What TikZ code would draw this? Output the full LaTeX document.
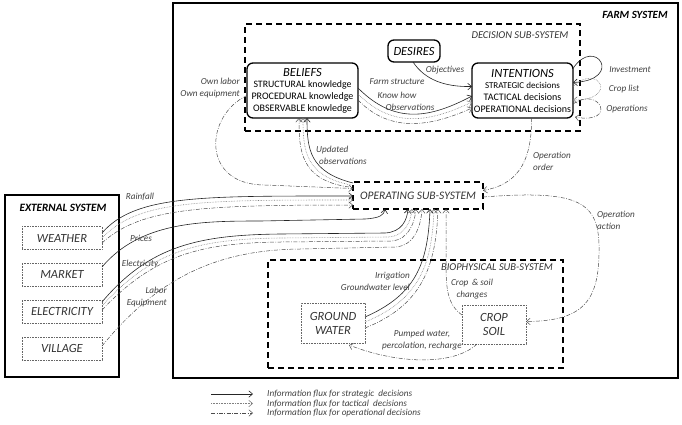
\documentclass[tikz,border=0pt]{standalone}
\usepackage{fontspec}
\setmainfont{Carlito}
\usetikzlibrary{arrows.meta,calc}
\begin{document}
\begin{tikzpicture}[x=1pt,y=-1pt,
  tip/.style={-{Straight Barb[length=3.8pt,width=6.5pt]}},
  sysbox/.style={draw, line width=1.6pt, outer sep=0pt},
  subbox/.style={draw, line width=1.4pt, dash pattern=on 6pt off 4pt, outer sep=0pt},
  agent/.style={draw, line width=1.3pt, rounded corners=6pt, outer sep=0pt, align=center, inner sep=1pt},
  compbox/.style={draw=gray!80!black, densely dotted, line width=0.6pt, outer sep=0pt, align=center,
     font=\itshape\fontsize{12.5}{14}\selectfont, text=black!80},
  lbl/.style={font=\itshape\fontsize{9.2}{11.5}\selectfont, text=black!75, inner sep=0pt},
  title/.style={font=\itshape\fontsize{10.5}{12}\selectfont, text=black!80, inner sep=0pt},
  strat/.style={black!85, line width=0.6pt, tip},
  tact/.style={gray, densely dotted, line width=0.6pt, tip},
  oper/.style={black!70, line width=0.5pt, dash pattern=on 4pt off 1.5pt on 0.8pt off 1.5pt, tip},
]
\useasboundingbox (0,0) rectangle (682,424);

% ---------- systems ----------
\node[sysbox, minimum width=505pt, minimum height=375pt] (farm) at (425.5,190.5) {};
\node[sysbox, minimum width=114pt, minimum height=182pt] (external) at (62,286) {};
\node[subbox, minimum width=335pt, minimum height=107pt] (decision) at (412.5,77.5) {};
\node[subbox, minimum width=130pt, minimum height=27pt, font=\itshape\fontsize{11.5}{12}\selectfont, text=black!80] (operating) at (418,195.5) {OPERATING SUB-SYSTEM};
\node[subbox, minimum width=295pt, minimum height=108pt] (bio) at (415.5,314) {};

\node[font=\bfseries\itshape\fontsize{11}{12}\selectfont, inner sep=0pt] (farmlbl) at (635,15) {FARM SYSTEM};
\node[font=\bfseries\itshape\fontsize{11.2}{12}\selectfont, inner sep=0pt] (extlbl) at (63,208) {EXTERNAL SYSTEM};
\node[title] (declbl) at (520,35) {DECISION SUB-SYSTEM};
\node[title] (biolbl) at (497,267) {BIOPHYSICAL SUB-SYSTEM};

% ---------- decision agents ----------
\node[agent, minimum width=52pt, minimum height=22pt, font=\itshape\fontsize{12.5}{14}\selectfont] (desires) at (414,51) {DESIRES};
\node[agent, minimum width=111pt, minimum height=55pt] (beliefs) at (302.5,90.5)
  {{\itshape\fontsize{12.5}{13}\selectfont BELIEFS}\\[-1pt]
   \fontsize{9.8}{12}\selectfont STRUCTURAL knowledge\\ PROCEDURAL knowledge\\ OBSERVABLE knowledge};
\node[agent, minimum width=101pt, minimum height=55pt] (intentions) at (522.5,90.5)
  {{\itshape\fontsize{12.5}{13}\selectfont INTENTIONS}\\[-1pt]
   \fontsize{9}{12}\selectfont STRATEGIC\ decisions\\ TACTICAL\ decisions\\ OPERATIONAL\ decisions};

% ---------- external components ----------
\node[compbox, minimum width=80pt, minimum height=23pt] (weather) at (62,238) {WEATHER};
\node[compbox, minimum width=80pt, minimum height=23pt] (market) at (62,274.5) {MARKET};
\node[compbox, minimum width=80pt, minimum height=23pt] (electricity) at (62,311.5) {ELECTRICITY};
\node[compbox, minimum width=80pt, minimum height=23pt] (village) at (62,348.5) {VILLAGE};

% ---------- biophysical components ----------
\node[compbox, minimum width=64pt, minimum height=40pt, font=\itshape\fontsize{12.5}{14}\selectfont] (ground) at (333,323) {GROUND\\WATER};
\node[compbox, minimum width=64pt, minimum height=39pt, font=\itshape\fontsize{12.5}{14}\selectfont] (crop) at (494,324.5) {CROP\\SOIL};

% ---------- beliefs -> intentions ----------
\draw[strat] ($(beliefs.east)+(0,-2.5)$) .. controls (395,125) and (430,118) .. ($(intentions.west)+(0,5.5)$);
\draw[tact]  ($(beliefs.east)+(0,3.5)$) .. controls (393,129) and (430,122) .. ($(intentions.west)+(0,11.5)$);
\draw[oper]  ($(beliefs.east)+(0,9.5)$) .. controls (390,133) and (430,127) .. ($(intentions.west)+(0,17.5)$);
\node[lbl] (l-fs) at (397,82) {Farm structure};
\node[lbl] (l-kh) at (397,95) {Know how};
\node[lbl] (l-ob) at (410,107) {Observations};

% desires -> intentions
\draw[strat] ($(desires.south)+(-1,0)$) .. controls (425,80) and (445,87) .. ($(intentions.west)+(0,-4)$);
\node[lbl] (l-objective) at (445,70) {Objectives};

% self loops
\draw[strat] ($(intentions.east)+(0,-22)$) .. controls (595,35) and (625,80) .. ($(intentions.east)+(0,-8)$);
\draw[tact]  ($(intentions.east)+(0,-4)$) .. controls (598,62) and (620,100) .. ($(intentions.east)+(0,9.5)$);
\draw[oper]  ($(intentions.east)+(0,13.5)$) .. controls (600,85) and (618,125) .. ($(intentions.south east)+(2,-1)$);
\node[lbl] (l-inv) at (630,70) {Investment};
\node[lbl] (l-cl) at (624,89) {Crop list};
\node[lbl] (l-op) at (627,109) {Operations};

% intentions -> operating (operation order)
\draw[oper] ($(intentions.south)+(9,0)$) .. controls (532,165) and (515,185) .. ($(operating.east)+(0,-5)$);
\node[lbl, anchor=north west, align=left] (l-oo) at (533,152) {Operation\\order};

% operating -> crop (operation action)
\draw[oper] ($(operating.east)+(0,1.5)$) .. controls (575,190) and (598,200) .. (599,245)
   .. controls (600,300) and (585,321) .. ($(crop.east)+(0,-3)$);
\node[lbl, anchor=north west, align=left] (l-oa) at (597,211) {Operation\\action};

% operating -> beliefs (updated observations)
\draw[strat] ($(operating.north west)+(0,1)$) .. controls (310,172) and (307,150) .. ($(beliefs.south)+(4.5,0)$);
\draw[tact]  ($(operating.north west)+(-2,3)$) .. controls (305,176) and (303,150) .. ($(beliefs.south)+(0.5,0)$);
\draw[oper]  ($(operating.north west)+(-4,5)$) .. controls (300,180) and (299,150) .. ($(beliefs.south)+(-3.5,0)$);
\node[lbl, anchor=north west, align=left] (l-uo) at (316,146) {Updated\\\hspace*{3pt}observations};

% own labor / equipment
\draw[oper] ($(beliefs.west)+(0,5)$) .. controls (205,115) and (200,185) .. (265,185) -- ($(operating.west)+(0,-7)$);
\node[lbl, anchor=north east, align=right] (l-ol) at (240,78) {Own labor\\Own equipment};

% weather -> operating
\draw[strat] ($(weather.east)+(0,-5)$) .. controls (135,195) and (200,196) .. ($(operating.west)+(0,0.5)$);
\draw[tact]  ($(weather.east)+(0,0)$) .. controls (138,200) and (200,200) .. ($(operating.west)+(0,4.5)$);
\draw[oper]  ($(weather.east)+(0,5)$) .. controls (140,208) and (200,205) .. ($(operating.west)+(0,9.5)$);
\node[lbl] (l-rain) at (140,197) {Rainfall};

% market -> operating
\draw[strat] ($(market.east)+(0,-7.5)$) .. controls (140,222) and (200,221) .. (260,221) -- (365,219)
   .. controls (380,218) and (384,215) .. ($(operating.south)+(-33,0)$);
\node[lbl] (l-price) at (141,238) {Prices};

% electricity -> operating
\draw[strat] ($(electricity.east)+(0,-9.5)$) .. controls (150,245) and (200,235) .. (280,234) -- (385,233)
   .. controls (402,232) and (407,220) .. ($(operating.south)+(-10,0)$);
\draw[tact]  ($(electricity.east)+(0,-5.5)$) .. controls (152,250) and (200,239) .. (280,238) -- (388,237)
   .. controls (406,236) and (411,220) .. ($(operating.south)+(-6,0)$);
\draw[oper]  ($(electricity.east)+(0,-1.5)$) .. controls (154,255) and (200,243) .. (280,242) -- (391,241)
   .. controls (410,240) and (415,220) .. ($(operating.south)+(-2,0)$);
\node[lbl] (l-elec) at (140,264) {Electricity};

% village -> operating
\draw[oper] ($(village.east)+(0,-2.5)$) .. controls (160,275) and (220,250) .. (300,249) -- (395,247)
   .. controls (415,246) and (421,225) .. ($(operating.south)+(4,0)$);
\node[lbl, align=right, anchor=north east] (l-lab) at (167,287) {Labor\\Equipment};

% ground water -> operating
\draw[strat] ($(ground.east)+(0,-6)$) .. controls (415,295) and (428,265) .. ($(operating.south)+(12,0)$);
\draw[tact]  ($(ground.east)+(0,-1)$) .. controls (419,300) and (432,265) .. ($(operating.south)+(16,0)$);
\draw[oper]  ($(ground.east)+(0,5)$) .. controls (423,305) and (436,265) .. ($(operating.south)+(20,0)$);
\node[lbl, align=right, anchor=north east] (l-irr) at (410,272) {Irrigation\\Groundwater level};

% crop -> operating
\draw[oper] ($(crop.west)+(0,-9.5)$) .. controls (448,305) and (446,290) .. (446,265) -- ($(operating.south)+(28,0)$);
\node[lbl, align=center, anchor=north] (l-cs) at (472,279) {Crop \,\&\ soil\\changes};

% crop -> ground water
\draw[oper] ($(crop.south west)+(15,0)$) .. controls (455,365) and (400,365) .. ($(ground.south east)+(-16,2)$);
\node[lbl, align=center, anchor=north] (l-pw) at (422,330) {Pumped water,\\percolation, recharge};

% ---------- legend ----------
\coordinate (la1) at (211,394); \coordinate (lb1) at (253,394);
\coordinate (la2) at (211,403.5); \coordinate (lb2) at (253,403.5);
\coordinate (la3) at (211,413); \coordinate (lb3) at (253,413);
\draw[strat] (la1) -- (lb1);
\draw[tact] (la2) -- (lb2);
\draw[oper] (la3) -- (lb3);
\node[lbl, anchor=west] (t1) at (267,394) {Information flux for strategic\ \ decisions};
\node[lbl, anchor=west] (t2) at (267,403.5) {Information flux for tactical\ \ decisions};
\node[lbl, anchor=west] (t3) at (267,413) {Information flux for operational decisions};
\end{tikzpicture}
\end{document}
